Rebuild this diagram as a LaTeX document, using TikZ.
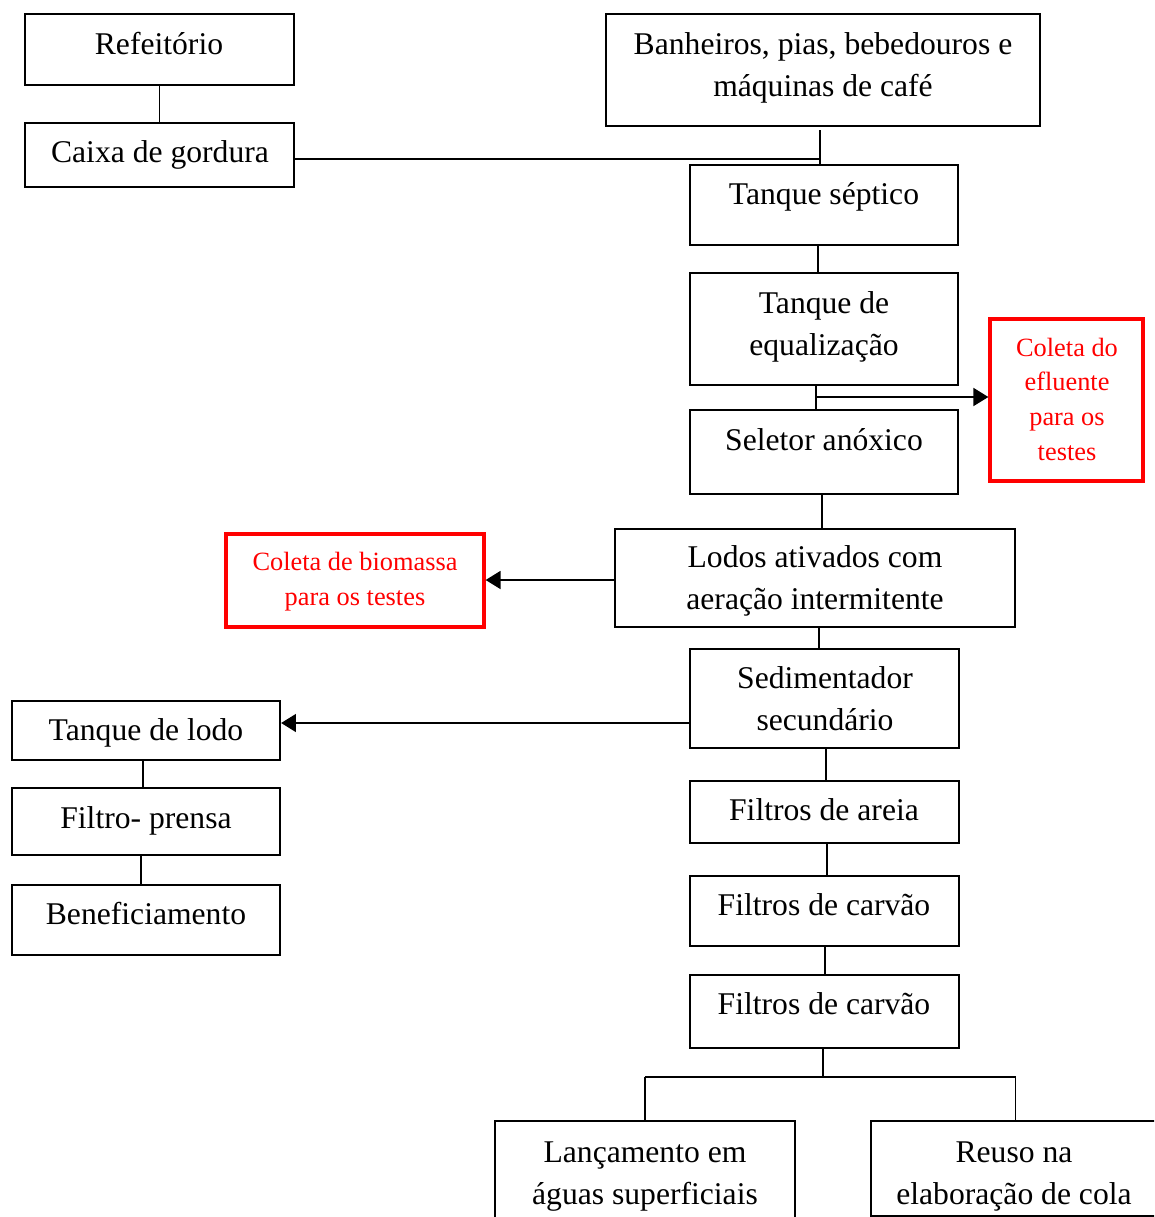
\documentclass[tikz,border=0pt]{standalone}
\usepackage{fontspec}
\setmainfont{Liberation Serif}
\usetikzlibrary{arrows.meta,fit}
\begin{document}
\begin{tikzpicture}[x=0.02cm,y=-0.02cm,
  box/.style={draw=black,line width=1.2pt,inner sep=0pt},
  redbox/.style={draw=red,line width=1.8pt,inner sep=0pt},
  txt/.style={inner sep=0pt,anchor=base,align=center,font=\fontsize{18}{23.5}\selectfont},
  redtxt/.style={inner sep=0pt,anchor=base,align=center,text=red,font=\fontsize{15}{19.7}\selectfont},
  link/.style={line width=1pt},
  arr/.style={line width=1.6pt,-{Triangle[length=8.5pt,width=10pt]}}]
\useasboundingbox (0,0) rectangle (1154,1217);
\clip (0,0) rectangle (1154,1217);

% boxes
\node[box,fit={(25,14) (294,85)}] (ref) {};
\node[box,fit={(25,123) (294,187)}] (caixa) {};
\node[box,fit={(606,14) (1040,126)}] (banh) {};
\node[box,fit={(690,165) (958,245)}] (sept) {};
\node[box,fit={(690,273) (958,385)}] (equal) {};
\node[redbox,fit={(990,319) (1143,481)}] (coleta) {};
\node[box,fit={(690,410) (958,494)}] (selet) {};
\node[box,fit={(615,529) (1015,627)}] (lodos) {};
\node[redbox,fit={(226,534) (484,627)}] (bio) {};
\node[box,fit={(690,649) (959,748)}] (sedim) {};
\node[box,fit={(12,701) (280,760)}] (tlodo) {};
\node[box,fit={(12,788) (280,855)}] (filtro) {};
\node[box,fit={(12,885) (280,955)}] (benef) {};
\node[box,fit={(690,781) (959,843)}] (areia) {};
\node[box,fit={(690,876) (959,946)}] (carv1) {};
\node[box,fit={(690,975) (959,1048)}] (carv2) {};
\node[box,fit={(495,1121) (795,1225)}] (lanc) {};
\node[box,fit={(871,1121) (1160,1216)}] (reuso) {};

% texts (anchor=base is the baseline of the last line)
\node[txt] (tref) at (159,54) {Refeitório};
\node[txt] (tcaixa) at (160,162) {Caixa de gordura};
\node[txt] (tbanh) at (823,96) {Banheiros, pias, bebedouros e\\máquinas de café};
\node[txt] (tsept) at (824,204) {Tanque séptico};
\node[txt] (tequal) at (824,355) {Tanque de\\equalização};
\node[redtxt] (tcoleta) at (1067,460) {Coleta do\\efluente\\para os\\testes};
\node[txt] (tselet) at (824,450) {Seletor anóxico};
\node[txt] (tlodos) at (815,609) {Lodos ativados com\\aeração intermitente};
\node[redtxt] (tbio) at (355,605) {Coleta de biomassa\\para os testes};
\node[txt] (tsedim) at (825,730) {Sedimentador\\secundário};
\node[txt] (ttlodo) at (146,740) {Tanque de lodo};
\node[txt] (tfiltro) at (146,828) {Filtro- prensa};
\node[txt] (tbenef) at (146,924) {Beneficiamento};
\node[txt] (tareia) at (824,820) {Filtros de areia};
\node[txt] (tcarv1) at (824,915) {Filtros de carvão};
\node[txt] (tcarv2) at (824,1014) {Filtros de carvão};
\node[txt] (tlanc) at (645,1204) {Lançamento em\\águas superficiais};
\node[txt] (treuso) at (1014,1204) {Reuso na\\elaboração de cola};

% connectors
\coordinate (j1) at (821,159);
\coordinate (s1) at (690,723);
\coordinate (split) at (823,1077);
\draw[link] (ref.south) -- (caixa.north);
\draw[link] (caixa.east |- j1) -- (j1);
\draw[link] (820,130) -- (sept.north -| 820,0);
\draw[link] (sept.south -| 818,0) -- (equal.north -| 818,0);
\draw[link] (equal.south -| 816,0) -- (selet.north -| 816,0);
\draw[arr] (816,397) -- (coleta.west |- 0,397);
\draw[link] (selet.south -| 822,0) -- (lodos.north -| 822,0);
\draw[arr] (lodos.west |- 0,580) -- (bio.east |- 0,580);
\draw[link] (lodos.south -| 819,0) -- (sedim.north -| 819,0);
\draw[arr] (s1) -- (s1 -| tlodo.east);
\draw[link] (tlodo.south -| 143,0) -- (filtro.north -| 143,0);
\draw[link] (filtro.south -| 141,0) -- (benef.north -| 141,0);
\draw[link] (sedim.south -| 826,0) -- (areia.north -| 826,0);
\draw[link] (areia.south -| 827,0) -- (carv1.north -| 827,0);
\draw[link] (carv1.south -| 825,0) -- (carv2.north -| 825,0);
\draw[link] (carv2.south -| split) -- (split);
\draw[link] (lanc.north |- split) -- (reuso.north |- split);
\draw[link] (lanc.north |- split) -- (lanc.north);
\draw[link] (reuso.north |- split) -- (reuso.north);
\end{tikzpicture}
\end{document}
